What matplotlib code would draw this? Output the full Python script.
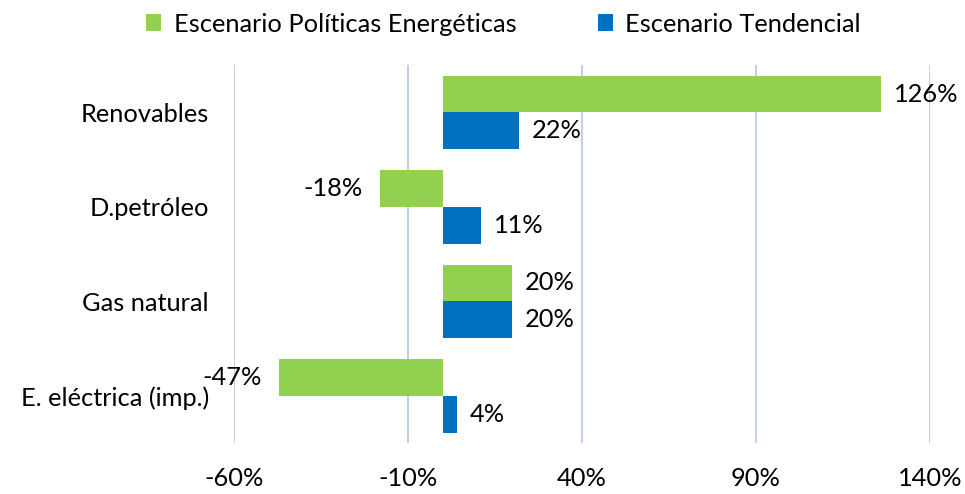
import numpy as np
import matplotlib.pyplot as plt

categories = ["Renovables", "D.petróleo", "Gas natural", "E. eléctrica (imp.)"]
politicas = [126, -18, 20, -47]
tendencial = [22, 11, 20, 4]
ticks = [-60, -10, 40, 90, 140]

green = "#92D050"
blue = "#0070C0"
plt.rcParams['font.family'] = ['Lato', 'DejaVu Sans']
fs = 18.3

fig = plt.figure(figsize=(9.65, 4.94), dpi=100)
ax = fig.add_axes([0.2425, 0.103, 0.7212, 0.765])

y = np.arange(len(categories))
h = 0.39
ax.barh(y - h / 2, politicas, height=h, color=green, label="Escenario Políticas Energéticas", zorder=2)
ax.barh(y + h / 2, tendencial, height=h, color=blue, label="Escenario Tendencial", zorder=2)

for yi, v in zip(y - h / 2, politicas):
    if v >= 0:
        ax.text(v + 3.6, yi, f"{v}%", va="center", ha="left", fontsize=fs)
    else:
        ax.text(v - 5, yi, f"{v}%", va="center", ha="right", fontsize=fs)
for yi, v in zip(y + h / 2, tendencial):
    ax.text(v + 3.6, yi, f"{v}%", va="center", ha="left", fontsize=fs)

ax.set_xlim(-60, 140)
ax.set_ylim(len(categories) - 0.5, -0.5)
ax.set_xticks(ticks)
ax.set_xticklabels([f"{t}%" for t in ticks], fontsize=fs)
ax.set_yticks(y)
ax.set_yticklabels(categories, fontsize=fs)
ax.tick_params(length=0)
ax.tick_params(axis='x', pad=17)
ax.tick_params(axis='y', pad=18)
ax.xaxis.grid(True, color="#B4C7E7", linewidth=1.2, zorder=0)
for s in ax.spines.values():
    s.set_visible(False)

ax.legend(loc="upper center", bbox_to_anchor=(0.387, 1.2), ncol=2, frameon=False,
          fontsize=fs, handlelength=0.6, handleheight=0.6, handletextpad=0.5,
          columnspacing=3.2)

fig.savefig("out.png", dpi=100)
